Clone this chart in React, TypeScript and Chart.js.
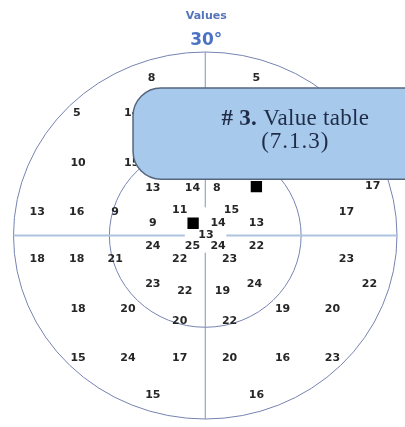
import { useEffect, useRef } from "react";
import { Chart, registerables } from "chart.js";

Chart.register(...registerables);

// Visual-field test locations (degrees) and their values
const pointX = [
  -8.4, 8.0, -20.1, -11.5, -19.9, -11.5, -8.2, -2.0, 1.8, 26.2,
  -26.3, -20.1, -14.1, -4.0, 4.1, 22.1, -8.2, 2.0, 8.0, 0.1,
  -8.2, -2.0, 2.0, 8.0, -26.3, -20.1, -14.1, -4.0, 3.8, 22.1,
  -8.2, -3.2, 2.7, 7.7, 25.7, -19.9, -12.1, -4.0, 3.8, 12.1,
  19.9, -19.9, -12.1, -4.0, 3.8, 12.1, 19.9, -8.2, 8.0,
];
const pointY = [
  25.8, 25.8, 20.0, 20.0, 11.9, 11.9, 7.8, 7.8, 7.8, 8.0,
  3.9, 3.9, 3.9, 4.1, 4.1, 3.9, 2.1, 2.0, 2.0, 0.0,
  -1.8, -1.8, -1.8, -1.8, -3.9, -3.9, -3.9, -3.9, -3.9, -3.9,
  -8.0, -9.1, -9.1, -8.0, -8.0, -12.1, -12.1, -14.0, -14.0, -12.1,
  -12.1, -20.1, -20.1, -20.1, -20.1, -20.1, -20.1, -26.1, -26.1,
];
const values = [
  8, 5, 5, 14, 10, 15, 13, 14, 8, 17,
  13, 16, 9, 11, 15, 17, 9, 14, 13, 13,
  24, 25, 24, 22, 18, 18, 21, 22, 23, 23,
  23, 22, 19, 24, 22, 18, 20, 20, 22, 19,
  20, 15, 24, 17, 20, 16, 23, 15, 16,
];

// Black square markers (degrees)
const markerX = [8.0, -1.9];
const markerY = [8.0, 2.0];

// Rings (degrees) and axis extent
const ringRadii = [15, 30];
const fieldExtent = 30;

const titleText = "Values";
const subtitleText = "30°";
const calloutBold = "# 3.";
const calloutRest = " Value table";
const calloutLine2 = "(7.1.3)";

const SANS = "'DejaVu Sans', Verdana, sans-serif";
const SERIF = "'Liberation Serif', 'Times New Roman', serif";

export default function App() {
  const canvasRef = useRef<HTMLCanvasElement | null>(null);

  useEffect(() => {
    const canvas = canvasRef.current;
    if (!canvas) return;

    const fieldPlugin = {
      id: "fieldPlugin",
      beforeDatasetsDraw(chart: any) {
        const { ctx, scales } = chart;
        const xs = scales.x;
        const ys = scales.y;
        const cx = xs.getPixelForValue(0);
        const cy = ys.getPixelForValue(0);
        ctx.save();
        // rings
        ctx.strokeStyle = "#7683b0";
        ctx.lineWidth = 1;
        ringRadii.forEach((r) => {
          const rx = xs.getPixelForValue(r) - cx;
          const ry = cy - ys.getPixelForValue(r);
          ctx.beginPath();
          ctx.ellipse(cx, cy, rx, ry, 0, 0, Math.PI * 2);
          ctx.stroke();
        });
        // horizontal axis (with central gap)
        ctx.strokeStyle = "#aec3df";
        ctx.lineWidth = 2;
        ctx.beginPath();
        ctx.moveTo(xs.getPixelForValue(-fieldExtent), cy);
        ctx.lineTo(xs.getPixelForValue(-3.2), cy);
        ctx.moveTo(xs.getPixelForValue(3.3), cy);
        ctx.lineTo(xs.getPixelForValue(fieldExtent), cy);
        ctx.stroke();
        // vertical axis (with central gap)
        ctx.strokeStyle = "#8391b8";
        ctx.lineWidth = 1;
        ctx.beginPath();
        ctx.moveTo(cx, ys.getPixelForValue(fieldExtent));
        ctx.lineTo(cx, ys.getPixelForValue(4.6));
        ctx.moveTo(cx, ys.getPixelForValue(-2.8));
        ctx.lineTo(cx, ys.getPixelForValue(-fieldExtent));
        ctx.stroke();
        ctx.restore();
      },
      afterDatasetsDraw(chart: any) {
        const { ctx, chartArea } = chart;
        const meta = chart.getDatasetMeta(0);
        ctx.save();
        ctx.fillStyle = "#262626";
        ctx.font = `bold 11px ${SANS}`;
        ctx.textAlign = "center";
        ctx.textBaseline = "middle";
        meta.data.forEach((el: any, i: number) => {
          ctx.fillText(String(values[i]), el.x, el.y);
        });
        // titles
        const tx = (chartArea.left + chartArea.right) / 2 + 1;
        ctx.fillStyle = "#5675b9";
        ctx.font = `bold 11px ${SANS}`;
        ctx.fillText(titleText, tx, 16);
        ctx.fillStyle = "#4b72c3";
        ctx.font = `bold 17px ${SANS}`;
        ctx.fillText(subtitleText, tx, 41);
        ctx.restore();
      },
      afterDraw(chart: any) {
        const { ctx, scales } = chart;
        const xs = scales.x;
        const ys = scales.y;
        const left = xs.getPixelForValue(-11.3);
        const right = xs.getPixelForValue(40);
        const top = ys.getPixelForValue(24.1);
        const bottom = ys.getPixelForValue(9.2);
        ctx.save();
        ctx.beginPath();
        ctx.roundRect(left, top, right - left, bottom - top, 28);
        ctx.fillStyle = "#a7c9ec";
        ctx.fill();
        ctx.strokeStyle = "#56667e";
        ctx.lineWidth = 1.5;
        ctx.stroke();
        // callout text
        const tcx = xs.getPixelForValue(14.1);
        const l1 = ys.getPixelForValue(19.0);
        const l2 = ys.getPixelForValue(15.3);
        ctx.fillStyle = "#1f2c47";
        ctx.textBaseline = "middle";
        const boldFont = `bold 23px ${SERIF}`;
        const regFont = `23px ${SERIF}`;
        ctx.letterSpacing = "0.3px";
        ctx.font = boldFont;
        const wb = ctx.measureText(calloutBold).width;
        ctx.font = regFont;
        const wr = ctx.measureText(calloutRest).width;
        const start = tcx - (wb + wr) / 2;
        ctx.textAlign = "left";
        ctx.font = boldFont;
        ctx.fillText(calloutBold, start, l1);
        ctx.font = regFont;
        ctx.fillText(calloutRest, start + wb, l1);
        ctx.letterSpacing = "1px";
        ctx.textAlign = "center";
        ctx.fillText(calloutLine2, tcx, l2);
        ctx.restore();
      },
    };

    const chart = new Chart(canvas, {
      type: "scatter",
      data: {
        datasets: [
          {
            data: pointX.map((x, i) => ({ x, y: pointY[i] })),
            pointRadius: 0,
            pointHoverRadius: 0,
          },
          {
            data: markerX.map((x, i) => ({ x, y: markerY[i] })),
            pointStyle: "rect",
            pointRadius: 8,
            borderWidth: 0,
            backgroundColor: "#000000",
            borderColor: "#000000",
          },
        ],
      },
      options: {
        animation: false,
        responsive: false,
        events: [],
        layout: { padding: { left: 13.5, right: 7.5, top: 52, bottom: 7 } },
        scales: {
          x: { type: "linear", min: -fieldExtent, max: fieldExtent, display: false },
          y: { type: "linear", min: -fieldExtent, max: fieldExtent, display: false },
        },
        plugins: {
          legend: { display: false },
          tooltip: { enabled: false },
          title: { display: false },
        },
      },
      plugins: [fieldPlugin],
    });

    return () => chart.destroy();
  }, []);

  return (
    <canvas
      ref={canvasRef}
      width={405}
      height={427}
      style={{ position: "absolute", left: 0, top: 0, background: "#ffffff" }}
    />
  );
}
